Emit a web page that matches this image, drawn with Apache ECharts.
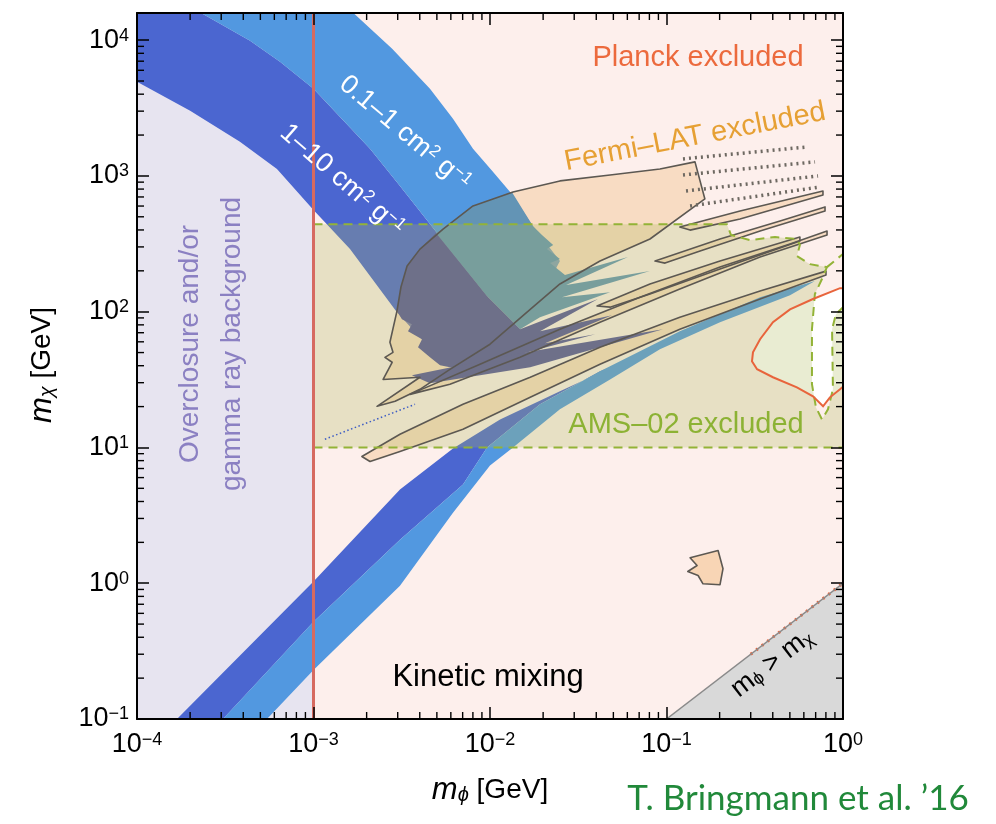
<!DOCTYPE html>
<html><head><meta charset="utf-8">
<script src="https://cdn.jsdelivr.net/npm/echarts@6/dist/echarts.min.js"></script>
<style>html,body{margin:0;padding:0;background:#fff}#c{width:996px;height:824px}</style>
</head><body><div id="c"></div>
<script>
// ---------------- data (m_phi [GeV], m_chi [GeV]) ----------------
const X_TICKS = [1e-4, 1e-3, 1e-2, 1e-1, 1];
const Y_TICKS = [1e-1, 1, 10, 100, 1000, 10000];
const X_DECADES = [1e-4, 1e-3, 1e-2, 1e-1];
const Y_DECADES = [1e-1, 1, 10, 100, 1000];
const MINOR_MULT = [2, 3, 4, 5, 6, 7, 8, 9];
const X_MIN = 1e-4, X_MAX = 1, Y_MIN = 0.1, Y_MAX = 15849;

const BG_LAVENDER = [[1e-4,0.1],[1e-3,0.1],[1e-3,16000],[1e-4,16000]];
const BG_PINK = [[1e-3,0.1],[1,0.1],[1,16000],[1e-3,16000]];
const PLANCK_CURVE = [[1,149],[0.962,149],[0.676,124],[0.501,104],[0.401,83.7],[0.339,62.7],[0.309,50.2],[0.305,43.1],[0.326,37.7],[0.401,32.9],[0.548,27.7],[0.676,23.8],[0.771,20.1],[0.843,23.4],[0.962,26.8],[1,28]];
const MPHI_GT_MCHI = [[0.1,0.1],[1,1],[1,0.1]];
const KIN_DIAG = [[0.3,0.3],[1,1]];

const DARK_UPPER = [[1e-4,1.6e4],[2.28e-4,1.6e4],[4.37e-4,9920],[6.46e-4,6940],[1e-3,4390],[1.41e-3,2724],[2.09e-3,1583],[3.09e-3,844],[4.57e-3,442],[9.62e-3,130],[1.48e-2,74.3],[5.21e-3,44.6],[2.97e-3,99.2],[1.61e-3,289],[1e-3,561],[6.21e-4,1126],[3.83e-4,1782],[2.0e-4,3020],[1e-4,4940]];
const LIGHT_UPPER = [[2.28e-4,1.6e4],[1.67e-3,1.6e4],[2.79e-3,8650],[4.57e-3,4390],[6.17e-3,2634],[8.01e-3,1583],[1.03e-2,1089],[1.30e-2,762],[1.75e-2,428],[2.49e-2,236],[1.69e-2,91.1],[9.62e-3,130],[4.57e-3,442],[3.09e-3,844],[2.09e-3,1583],[1.41e-3,2724],[1e-3,4390],[6.46e-4,6940],[4.37e-4,9920]];
const DARK_LOWER = [[1.685e-4,0.1],[1e-3,1.03],[3.09e-3,4.90],[6.17e-3,9.84],[1.14e-2,16.1],[2.49e-2,25.9],[5.82e-2,43.1],[4.20e-2,36.4],[1.92e-2,20.8],[9.62e-3,10.0],[7.03e-3,5.33],[3.09e-3,2.09],[1e-3,0.520],[3.07e-4,0.1]];
const LIGHT_LOWER = [[3.07e-4,0.1],[1e-3,0.520],[3.09e-3,2.09],[7.03e-3,5.33],[9.62e-3,10.0],[1.92e-2,20.8],[4.20e-2,36.4],[0.119,71.8],[0.339,128],[0.694,168],[0.501,132],[0.201,83.7],[9.18e-2,52.9],[4.79e-2,31.7],[2.49e-2,19.1],[1.35e-2,10.0],[1.0e-2,7.36],[6.17e-3,3.31],[3.09e-3,0.958],[1e-3,0.230],[5.45e-4,0.1]];

const FERMI_BLOB = [[2.29e-3,20.1],[4.01e-3,32.9],[2.48e-3,31.7],[2.79e-3,42.4],[2.54e-3,46.1],[2.82e-3,50.2],[2.71e-3,59.6],[2.97e-3,101],[3.13e-3,152],[3.39e-3,217],[4.01e-3,289],[5.42e-3,406],[8.01e-3,601],[1.35e-2,762],[2.49e-2,919],[4.79e-2,1017],[9.18e-2,1126],[0.145,1269],[0.165,677],[8.06e-2,343],[4.20e-2,236],[2.49e-2,160],[1.69e-2,104],[1.0e-2,57.6],[5.93e-3,37.6],[4.01e-3,26.8],[2.90e-3,21.9]];
const LOBE_A = [[1.88e-3,8.58],[3.09e-3,12.5],[7.03e-3,20.8],[1.69e-2,32.9],[4.20e-2,54.7],[0.119,91.1],[0.339,142],[0.801,199],[0.801,186],[0.339,124],[0.119,74.3],[4.20e-2,41.0],[1.69e-2,23.4],[7.03e-3,13.6],[3.09e-3,9.34],[2.09e-3,7.88]];
const LOBE_B = [[3.52e-3,24.6],[8.78e-3,41.0],[2.49e-2,74.3],[7.08e-2,128],[0.201,213],[0.501,315],[0.812,393],[0.812,367],[0.339,253],[0.119,147],[4.20e-2,83.7],[1.48e-2,46.1],[5.93e-3,29.2]];
const LOBE_C = [[4.04e-2,110],[8.06e-2,160],[0.201,236],[0.570,355],[0.570,332],[0.201,206],[8.06e-2,135],[4.79e-2,108]];
const LOBE_D = [[8.61e-2,236],[0.201,343],[0.440,466],[0.791,591],[0.791,552],[0.339,393],[0.155,280],[9.81e-2,228]];
const LOBE_E = [[0.119,420],[0.261,552],[0.770,775],[0.770,724],[0.261,482],[0.136,399]];
const FERMI_ISLAND = [[0.136,1.54],[0.196,1.74],[0.209,1.28],[0.201,0.975],[0.161,0.99],[0.151,1.14],[0.132,1.22],[0.149,1.35]];
const FERMI_DOT_ROWS = [
  [[0.124,1335],[0.633,1637]],
  [[0.124,1017],[0.694,1269]],
  [[0.129,775],[0.722,1000]],
  [[0.136,601],[0.741,829]]
];
const BLUE_DOTTED = [[1.16e-3,11.5],[3.76e-3,20.8]];

const TEAL_MIX = [[4.94e-3,380],[5.42e-3,406],[8.01e-3,601],[1.33e-2,762],[1.75e-2,428],[1.97e-2,367],[2.28e-2,310],[2.10e-2,289],[2.49e-2,244],[2.19e-2,228],[2.66e-2,186],[6.05e-2,253],[2.70e-2,157],[8.06e-2,199],[2.56e-2,128],[4.79e-2,139],[1.92e-2,91.1],[1.48e-2,74.3],[9.62e-3,130]];
const DARK_MIX = [[2.97e-3,101],[3.13e-3,152],[3.39e-3,217],[4.01e-3,289],[4.94e-3,380],[9.62e-3,130],[1.48e-2,74.3],[4.09e-2,124],[1.92e-2,71.8],[4.91e-2,94.2],[2.05e-2,58.6],[3.94e-2,68.2],[1.48e-2,48.6],[7.70e-3,36.4],[5.21e-3,40.3],[4.57e-3,46.1],[3.91e-3,54.7],[4.12e-3,62.7],[3.43e-3,71.8],[3.61e-3,80.9],[3.17e-3,88.0]];
const DARK_RAY = [[3.61e-3,34.0],[1.48e-2,49.4],[9.55e-2,74.3],[1.69e-2,38.9],[4.57e-3,29.7]];

const AMS_REGION = [[1e-3,10],[1e-3,440],[0.220,440],[0.232,367],[0.297,337],[0.412,355],[0.548,343],[0.570,310],[0.548,257],[0.650,224],[0.811,213],[0.760,174],[0.693,135],[0.667,74.3],[0.667,29.2],[0.703,19.7],[0.760,16.1],[0.822,19.1],[0.877,26.8],[0.867,74.3],[0.912,95.9],[1,108],[1,10]];
const AMS_EDGE_TOP = AMS_REGION.slice(1, AMS_REGION.length - 1);
const AMS_EDGE_BOTTOM = [[1e-3,10],[1,10]];
const AMS_EDGE_EXTRA = [[0.811,213],[1,266]];
const RED_LINE = [[1e-3,0.1],[1e-3,16000]];

// ---------------- helpers ----------------
const F = "'Liberation Sans', Arial, Helvetica, sans-serif";
function shape(pts, style, closed) {
  return {
    type: 'custom', coordinateSystem: 'cartesian2d', clip: true, silent: true,
    data: pts, encode: { x: 0, y: 1 },
    renderItem: function (params, api) {
      if (params.dataIndex !== 0) return null;
      const p = pts.map(d => api.coord(d));
      if (closed === false) {
        return { type: 'polyline', shape: { points: p }, style: Object.assign({ fill: 'none' }, style) };
      }
      return { type: 'polygon', shape: { points: p }, style: style };
    }
  };
}
const fillOnly = c => ({ fill: c, stroke: 'none' });
const outline = (c, w) => ({ fill: 'none', stroke: c, lineWidth: w, lineJoin: 'round' });

const xMinor = [], yMinor = [];
X_DECADES.forEach(d => MINOR_MULT.forEach(k => xMinor.push([k * d, Y_MIN])));
Y_DECADES.forEach(d => MINOR_MULT.forEach(k => { if (k * d < Y_MAX) yMinor.push([X_MIN, k * d]); }));

function tickSeries(data, vertical) {
  return {
    type: 'custom', coordinateSystem: 'cartesian2d', silent: true, data: data, encode: { x: 0, y: 1 }, z: 20,
    renderItem: function (params, api) {
      const st = { stroke: '#000', lineWidth: 1.4 };
      if (vertical) {
        const v = api.value(0);
        const b = api.coord([v, Y_MIN]), t = api.coord([v, Y_MAX]);
        return { type: 'group', children: [
          { type: 'line', shape: { x1: b[0], y1: b[1], x2: b[0], y2: b[1] - 7 }, style: st },
          { type: 'line', shape: { x1: t[0], y1: t[1], x2: t[0], y2: t[1] + 7 }, style: st }] };
      }
      const v = api.value(1);
      const l = api.coord([X_MIN, v]), r = api.coord([X_MAX, v]);
      return { type: 'group', children: [
        { type: 'line', shape: { x1: l[0], y1: l[1], x2: l[0] + 7, y2: l[1] }, style: st },
        { type: 'line', shape: { x1: r[0], y1: r[1], x2: r[0] - 7, y2: r[1] }, style: st }] };
    }
  };
}

function fmt(v) {
  const e = Math.log10(v), r = Math.round(e);
  if (Math.abs(e - r) > 1e-6) return '';
  return '{b|10}{s|' + (r < 0 ? '\u2212' + (-r) : r) + '}';
}
const labelRich = { b: { fontSize: 27, fontFamily: F, color: '#000' }, s: { fontSize: 18, fontFamily: F, color: '#000', verticalAlign: 'top' } };
function axis(pos, isX, showLabel) {
  return {
    type: 'log', logBase: 10, position: pos, z: 30,
    min: isX ? X_MIN : Y_MIN, max: isX ? X_MAX : Y_MAX,
    axisLine: { show: true, onZero: false, lineStyle: { color: '#000', width: 2 } },
    axisTick: { show: true, inside: true, length: 12, lineStyle: { color: '#000', width: 1.5 } },
    axisLabel: { show: showLabel, formatter: fmt, rich: labelRich, margin: isX ? 12 : 8 },
    splitLine: { show: false }, minorTick: { show: false }
  };
}

const mixAMS = 'rgba(175,185,95,0.28)';
const fermiFill = 'rgba(240,175,100,0.30)';
const fermiLine = '#5c5852';
const titleRich = {
  i: { fontSize: 31, fontStyle: 'italic', fontFamily: F, fill: '#000' },
  sub: { fontSize: 20, fontStyle: 'italic', fontFamily: F, fill: '#000', verticalAlign: 'bottom' },
  n: { fontSize: 28, fontFamily: F, fill: '#000' }
};

const series = [
  shape(BG_LAVENDER, fillOnly('#e7e4f0')),
  shape(BG_PINK, fillOnly('#fdefec')),
  shape(PLANCK_CURVE, fillOnly('#ffffff')),
  shape(MPHI_GT_MCHI, fillOnly('#d9d9d9')),
  shape(DARK_UPPER, fillOnly('#4b66d0')),
  shape(LIGHT_UPPER, fillOnly('#5298e0')),
  shape(FERMI_BLOB, fillOnly(fermiFill)),
  shape(LOBE_A, fillOnly(fermiFill)),
  shape(LOBE_B, fillOnly(fermiFill)),
  shape(LOBE_C, fillOnly(fermiFill)),
  shape(LOBE_D, fillOnly(fermiFill)),
  shape(LOBE_E, fillOnly(fermiFill)),
  shape(FERMI_ISLAND, fillOnly('rgba(240,175,100,0.40)')),
  shape(TEAL_MIX, fillOnly('#6394b5')),
  shape(DARK_MIX, fillOnly('#55549a')),
  shape(DARK_RAY, fillOnly('#55549a')),
  shape(DARK_LOWER, fillOnly('#4b66d0')),
  shape(LIGHT_LOWER, fillOnly('#5298e0')),
  shape(AMS_REGION, fillOnly(mixAMS)),
  shape(FERMI_BLOB, outline(fermiLine, 1.6)),
  shape(LOBE_A, outline(fermiLine, 1.6)),
  shape(LOBE_B, outline(fermiLine, 1.6)),
  shape(LOBE_C, outline(fermiLine, 1.6)),
  shape(LOBE_D, outline(fermiLine, 1.6)),
  shape(LOBE_E, outline(fermiLine, 1.6)),
  shape(FERMI_ISLAND, outline(fermiLine, 1.6)),
  shape(BLUE_DOTTED, { stroke: '#3d5cc4', lineWidth: 1.5, lineDash: [1.5, 2.5] }, false)
].concat(FERMI_DOT_ROWS.map(r => shape(r, { stroke: '#6e6962', lineWidth: 3.5, lineDash: [2, 4] }, false)))
 .concat([
  shape(AMS_EDGE_TOP, { stroke: '#93b337', lineWidth: 2, lineDash: [9, 6] }, false),
  shape(AMS_EDGE_BOTTOM, { stroke: '#93b337', lineWidth: 2, lineDash: [9, 6] }, false),
  shape(AMS_EDGE_EXTRA, { stroke: '#93b337', lineWidth: 2, lineDash: [9, 6] }, false),
  shape(PLANCK_CURVE, { stroke: '#e8643c', lineWidth: 2 }, false),
  shape(KIN_DIAG, { stroke: '#e8643c', lineWidth: 3, lineDash: [2, 5] }, false),
  shape([[0.1,0.1],[1,1]], { stroke: '#8a8a8a', lineWidth: 1.5 }, false),
  shape(RED_LINE, { stroke: '#d66a60', lineWidth: 3 }, false),
  tickSeries(xMinor, true),
  tickSeries(yMinor, false)
 ]);

const chart = echarts.init(document.getElementById('c'), null, { renderer: 'canvas' });
chart.setOption({
  animation: false,
  backgroundColor: '#ffffff',
  grid: { left: 137, top: 13, width: 706, height: 706, containLabel: false },
  xAxis: [axis('bottom', true, true), axis('top', true, false)],
  yAxis: [axis('left', false, true), axis('right', false, false)],
  series: series,
  graphic: [
    { type: 'text', x: 698, y: 58, z: 100, style: { text: 'Planck excluded', fontSize: 29, fontFamily: F, fill: '#ec6a3d', align: 'center', verticalAlign: 'middle' } },
    { type: 'text', x: 695, y: 137, z: 100, rotation: 11 * Math.PI / 180, style: { text: 'Fermi\u2013LAT excluded', fontSize: 29, fontFamily: F, fill: '#e6a034', align: 'center', verticalAlign: 'middle' } },
    { type: 'text', x: 686, y: 425, z: 100, style: { text: 'AMS\u201302 excluded', fontSize: 29, fontFamily: F, fill: '#8cb234', align: 'center', verticalAlign: 'middle' } },
    { type: 'text', x: 488, y: 677, z: 100, style: { text: 'Kinetic mixing', fontSize: 31, fontFamily: F, fill: '#000', align: 'center', verticalAlign: 'middle' } },
    { type: 'text', x: 405, y: 133, z: 100, rotation: -40 * Math.PI / 180, style: { text: '0.1\u20131 cm{s|2} g{s|\u22121}', rich: { s: { fontSize: 17, fontFamily: F, fill: '#fff', verticalAlign: 'top' } }, fontSize: 27, fontFamily: F, fill: '#fff', align: 'center', verticalAlign: 'middle' } },
    { type: 'text', x: 342, y: 180, z: 100, rotation: -41 * Math.PI / 180, style: { text: '1\u201310 cm{s|2} g{s|\u22121}', rich: { s: { fontSize: 17, fontFamily: F, fill: '#fff', verticalAlign: 'top' } }, fontSize: 27, fontFamily: F, fill: '#fff', align: 'center', verticalAlign: 'middle' } },
    { type: 'text', x: 211, y: 344, z: 100, rotation: Math.PI / 2, style: { text: 'Overclosure and/or\ngamma ray background', fontSize: 28, lineHeight: 42, fontFamily: F, fill: '#8b80c2', align: 'center', verticalAlign: 'middle' } },
    { type: 'text', x: 772, y: 663, z: 100, rotation: 37.6 * Math.PI / 180, style: { text: 'm{sub|\u03d5} > m{sub|\u03c7}', rich: { sub: { fontSize: 18, fontFamily: F, fill: '#000', verticalAlign: 'bottom' } }, fontSize: 27, fontFamily: F, fill: '#000', align: 'center', verticalAlign: 'middle' } },
    { type: 'text', x: 42, y: 365, z: 100, rotation: Math.PI / 2, style: { text: '{i|m}{sub|\u03c7}{n| [GeV]}', rich: titleRich, fontSize: 28, fontFamily: F, fill: '#000', align: 'center', verticalAlign: 'middle' } },
    { type: 'text', x: 490, y: 790, z: 100, style: { text: '{i|m}{sub|\u03d5}{n| [GeV]}', rich: titleRich, fontSize: 28, fontFamily: F, fill: '#000', align: 'center', verticalAlign: 'middle' } },
    { type: 'text', x: 798, y: 799, z: 100, style: { text: 'T. Bringmann et al. \u201916', fontSize: 35, fontFamily: "Lato, 'Open Sans', sans-serif", fill: '#21893a', align: 'center', verticalAlign: 'middle' } }
  ]
});
</script>
</body></html>
